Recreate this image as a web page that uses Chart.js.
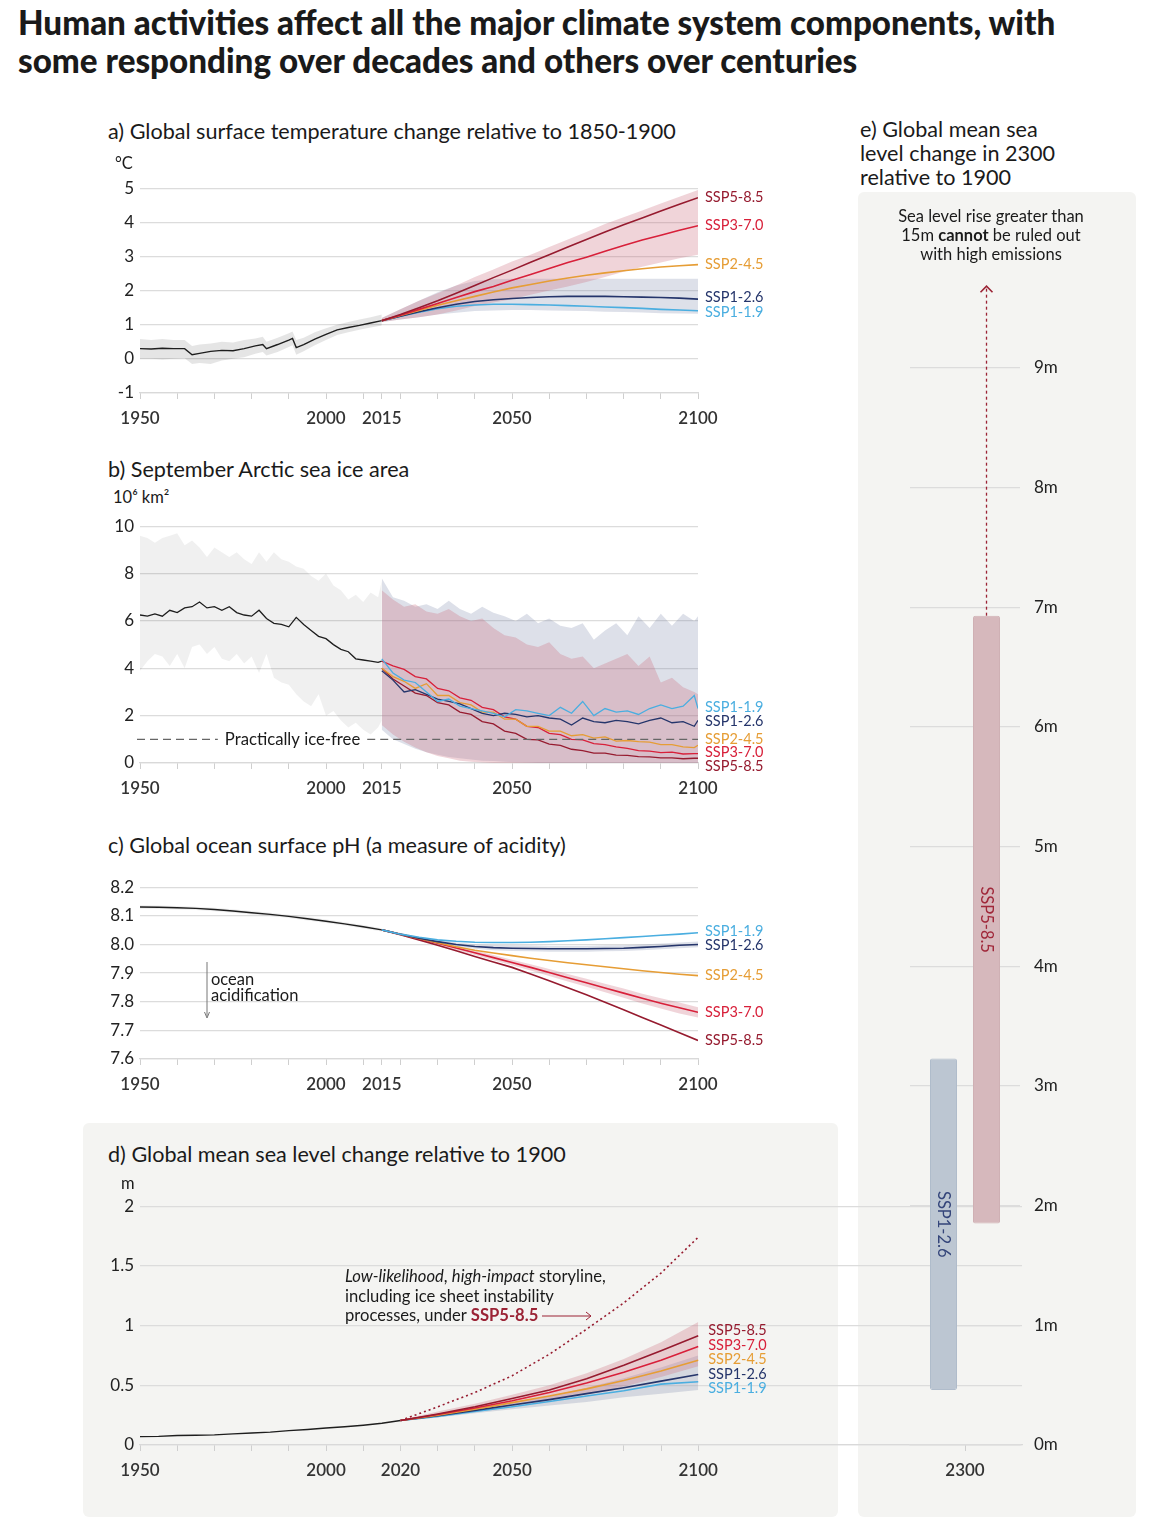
<!DOCTYPE html>
<html>
<head>
<meta charset="utf-8">
<script src="https://cdn.jsdelivr.net/npm/chart.js@4.4.1/dist/chart.umd.min.js"></script>
<style>
  body { margin: 0; background: #fff; font-family: Lato, "Noto Sans", sans-serif; color: #1a1a1a; }
  #page { position: relative; width: 1158px; height: 1536px; overflow: hidden; }
  .abs { position: absolute; white-space: nowrap; }
  canvas { position: absolute; }
  .bg { position: absolute; background: #f4f4f2; border-radius: 6px; }
  .ptitle { font-size: 21.6px; line-height: 24px; z-index: 3; }
  .unit { font-size: 16.5px; line-height: 18px; z-index: 3; }
</style>
</head>
<body>
<div id="page">
  <div class="abs" style="left:18px;top:3px;font-size:33.2px;font-weight:900;line-height:38px;z-index:3">Human activities affect all the major climate system components, with<br>some responding over decades and others over centuries</div>

  <div class="bg" style="left:83px;top:1123px;width:755px;height:394px"></div>
  <div class="bg" style="left:858px;top:192px;width:278px;height:1325px"></div>

  <div class="abs ptitle" style="left:108px;top:119px">a) Global surface temperature change relative to 1850-1900</div>
  <div class="abs unit" style="left:115px;top:154px">°C</div>
  <div class="abs ptitle" style="left:108px;top:457px">b) September Arctic sea ice area</div>
  <div class="abs unit" style="left:113px;top:488px">10⁶ km²</div>
  <div class="abs ptitle" style="left:108px;top:833px">c) Global ocean surface pH (a measure of acidity)</div>
  <div class="abs" style="left:211px;top:971px;font-size:16.5px;line-height:16px;z-index:3">ocean<br>acidification</div>
  <div class="abs ptitle" style="left:108px;top:1142px">d) Global mean sea level change relative to 1900</div>
  <div class="abs unit" style="left:121px;top:1174px">m</div>
  <div class="abs" style="left:345px;top:1267px;font-size:16.6px;line-height:19.5px;z-index:3"><i>Low-likelihood</i>, <i>high-impact</i> storyline,<br>including ice sheet instability<br>processes, under <b style="color:#9b2335">SSP5-8.5</b></div>
  <div class="abs ptitle" style="left:860px;top:117px">e) Global mean sea<br>level change in 2300<br>relative to 1900</div>
  <div class="abs" style="left:866px;top:207px;width:250px;text-align:center;font-size:16.5px;line-height:19px;z-index:3">Sea level rise greater than<br>15m <b>cannot</b> be ruled out<br>with high emissions</div>

  <canvas id="cA" width="690" height="257" style="left:90px;top:172px;z-index:1"></canvas>
  <canvas id="cB" width="690" height="289" style="left:90px;top:510px;z-index:1"></canvas>
  <canvas id="cC" width="690" height="224" style="left:90px;top:871px;z-index:1"></canvas>
  <canvas id="cD" width="936" height="291" style="left:90px;top:1190px;z-index:1"></canvas>
  <canvas id="cE" width="190" height="1221" style="left:880px;top:260px;z-index:2"></canvas>

  <svg class="abs" style="left:0;top:0;z-index:4" width="1158" height="1536">
    <line x1="207" y1="962" x2="207" y2="1016" stroke="#777" stroke-width="1"/>
    <path d="M204.5 1012 L207 1018 L209.5 1012" fill="none" stroke="#777" stroke-width="1"/>
    <line x1="542" y1="1316" x2="591" y2="1316" stroke="#9b2335" stroke-width="1"/>
    <path d="M586 1312 L591 1316 L586 1320" fill="none" stroke="#9b2335" stroke-width="1"/>
  </svg>
</div>

<script>
// ---------- a) global surface temperature (°C vs 1850-1900) ----------
const yearsTempHist = [1950,1953,1956,1959,1962,1964,1966,1969,1972,1975,1978,1981,1983,1984,1987,1990,1991,1992,1994,1997,2000,2003,2006,2009,2012,2015];
const tempHist   = [0.3,0.29,0.31,0.3,0.3,0.12,0.16,0.22,0.25,0.24,0.3,0.38,0.42,0.3,0.42,0.55,0.6,0.33,0.42,0.58,0.72,0.85,0.92,0.98,1.05,1.12];
const tempHistLo = [0.0,0.0,-0.02,0.0,0.02,-0.15,-0.12,-0.15,-0.05,0.0,0.05,0.15,0.2,0.1,0.2,0.35,0.4,0.12,0.22,0.4,0.55,0.7,0.78,0.85,0.92,0.98];
const tempHistHi = [0.58,0.55,0.58,0.55,0.55,0.38,0.42,0.45,0.5,0.48,0.55,0.6,0.65,0.5,0.62,0.75,0.8,0.55,0.62,0.78,0.9,1.0,1.08,1.15,1.22,1.3];

const yearsTempProj = [2015,2020,2025,2030,2035,2040,2045,2050,2055,2060,2065,2070,2075,2080,2085,2090,2095,2100];
const tempSsp585 = [1.12,1.3,1.5,1.7,1.92,2.15,2.38,2.6,2.83,3.05,3.28,3.5,3.72,3.93,4.13,4.33,4.53,4.72];
const tempSsp370 = [1.12,1.28,1.45,1.62,1.8,1.97,2.12,2.3,2.47,2.65,2.82,2.98,3.15,3.32,3.48,3.62,3.77,3.9];
const tempSsp245 = [1.12,1.27,1.42,1.57,1.7,1.83,1.96,2.08,2.18,2.28,2.37,2.45,2.52,2.58,2.64,2.69,2.73,2.76];
const tempSsp126 = [1.12,1.25,1.38,1.5,1.6,1.68,1.73,1.77,1.8,1.82,1.83,1.83,1.83,1.82,1.81,1.8,1.78,1.75];
const tempSsp119 = [1.12,1.25,1.37,1.47,1.54,1.58,1.6,1.6,1.59,1.58,1.56,1.54,1.52,1.5,1.48,1.45,1.43,1.41];
const tempBand370Lo = [1.08,1.15,1.22,1.3,1.42,1.55,1.65,1.75,1.88,2.0,2.12,2.25,2.4,2.55,2.7,2.82,2.95,3.05];
const tempBand370Hi = [1.2,1.45,1.7,1.92,2.15,2.4,2.62,2.85,3.05,3.28,3.5,3.72,3.95,4.15,4.35,4.55,4.75,4.95];
const tempBand126Lo = [1.08,1.15,1.22,1.3,1.35,1.4,1.42,1.43,1.43,1.42,1.41,1.4,1.38,1.37,1.36,1.34,1.33,1.32];
const tempBand126Hi = [1.2,1.45,1.7,1.95,2.15,2.28,2.33,2.35,2.35,2.35,2.35,2.35,2.35,2.35,2.35,2.35,2.35,2.35];

// ---------- b) September Arctic sea ice (10^6 km2) ----------
const yearsIceHist = [1950,1952,1954,1956,1958,1960,1962,1964,1966,1968,1970,1972,1974,1976,1978,1980,1982,1984,1986,1988,1990,1992,1994,1996,1998,2000,2002,2004,2006,2008,2010,2012,2014,2015];
const iceHist   = [6.25,6.2,6.3,6.2,6.45,6.35,6.55,6.6,6.8,6.55,6.6,6.45,6.6,6.35,6.25,6.2,6.45,6.1,5.9,5.85,5.75,6.15,5.85,5.6,5.35,5.25,5.0,4.8,4.7,4.4,4.35,4.3,4.25,4.3];
const iceHistLo = [3.9,4.3,4.6,4.5,4.1,4.6,4.0,4.9,5.0,4.6,4.9,4.4,4.3,4.6,4.2,4.5,3.8,4.6,3.6,3.4,3.3,2.9,2.6,2.4,2.9,2.0,2.2,1.8,1.5,1.7,1.4,1.2,1.5,1.8];
const iceHistHi = [9.6,9.5,9.3,9.5,9.6,9.7,9.2,9.4,9.1,8.7,9.1,8.9,8.7,8.9,8.6,8.4,8.9,8.5,8.9,8.6,8.5,8.3,8.2,7.9,7.7,8.0,7.5,7.3,6.9,7.1,6.8,7.2,7.0,7.7];

const yearsIceProj = [2015,2018,2021,2024,2027,2030,2033,2036,2039,2042,2045,2048,2051,2054,2057,2060,2063,2066,2069,2072,2075,2078,2081,2084,2087,2090,2093,2096,2099,2100];
const iceSsp119 = [4.4,3.8,3.5,3.4,3.0,2.6,2.7,2.4,2.3,2.2,2.1,1.95,2.25,2.2,2.1,2.0,2.35,2.1,2.6,2.0,2.3,2.15,2.2,2.05,2.3,2.45,2.3,2.4,2.85,2.3];
const iceSsp126 = [3.9,3.5,3.0,3.1,2.9,2.7,2.6,2.5,2.3,2.1,2.0,2.1,2.05,1.95,2.0,1.9,1.85,1.6,1.9,1.75,1.7,1.8,1.75,1.65,1.8,1.9,1.7,1.75,1.55,1.8];
const iceSsp245 = [4.0,3.65,3.45,3.15,3.35,2.85,2.85,2.55,2.45,2.15,2.15,1.85,1.85,1.55,1.55,1.35,1.35,1.15,1.2,1.05,1.1,0.92,0.95,0.9,0.88,0.78,0.78,0.68,0.65,0.75];
const iceSsp370 = [4.3,4.1,3.95,3.65,3.55,3.15,3.05,2.75,2.65,2.35,2.25,1.95,1.85,1.55,1.5,1.25,1.2,1.0,0.98,0.82,0.78,0.68,0.62,0.52,0.5,0.44,0.46,0.38,0.4,0.4];
const iceSsp585 = [4.0,3.55,3.25,2.95,2.85,2.55,2.45,2.15,2.05,1.75,1.65,1.35,1.25,1.0,0.98,0.8,0.74,0.58,0.52,0.42,0.42,0.33,0.32,0.27,0.26,0.22,0.22,0.18,0.2,0.2];
const iceBand126Lo = [1.4,1.0,0.8,0.6,0.45,0.35,0.25,0.2,0.15,0.1,0.08,0.05,0.03,0.02,0,0,0,0,0,0,0,0,0,0,0,0,0,0,0,0];
const iceBand126Hi = [7.8,7.0,6.85,6.6,6.7,6.5,6.85,6.5,6.3,6.6,6.35,6.2,6.0,6.3,5.9,6.1,5.8,5.7,5.9,5.2,5.6,5.9,5.4,6.2,5.7,6.3,5.8,6.3,6.0,6.2];
const iceBand370Lo = [1.6,1.2,0.9,0.65,0.45,0.3,0.2,0.1,0.05,0.02,0,0,0,0,0,0,0,0,0,0,0,0,0,0,0,0,0,0,0,0];
const iceBand370Hi = [7.3,6.9,6.6,6.7,6.4,6.3,6.5,6.2,6.0,6.1,5.7,5.4,5.3,5.0,4.9,5.1,4.6,4.4,4.5,4.0,4.2,4.4,4.6,4.1,4.5,3.4,3.6,3.2,3.0,2.9];
const ICE_FREE = 1;

// ---------- c) ocean surface pH ----------
const yearsPhHist = [1950,1955,1960,1965,1970,1975,1980,1985,1990,1995,2000,2005,2010,2015];
const phHist   = [8.131,8.13,8.128,8.126,8.122,8.117,8.111,8.105,8.098,8.09,8.081,8.072,8.062,8.051];
const phHistLo = [8.125,8.124,8.122,8.12,8.116,8.111,8.105,8.099,8.092,8.084,8.075,8.066,8.056,8.045];
const phHistHi = [8.137,8.136,8.134,8.132,8.128,8.123,8.117,8.111,8.104,8.096,8.087,8.078,8.068,8.057];

const yearsPhProj = [2015,2020,2025,2030,2035,2040,2045,2050,2055,2060,2065,2070,2075,2080,2085,2090,2095,2100];
const phSsp119 = [8.051,8.036,8.025,8.016,8.011,8.008,8.007,8.007,8.008,8.01,8.013,8.016,8.02,8.024,8.028,8.032,8.036,8.041];
const phSsp126 = [8.051,8.036,8.022,8.01,8.0,7.993,7.989,7.987,7.986,7.985,7.985,7.985,7.986,7.987,7.99,7.993,7.997,8.0];
const phSsp245 = [8.051,8.036,8.021,8.006,7.992,7.98,7.97,7.961,7.952,7.944,7.936,7.929,7.922,7.915,7.908,7.902,7.896,7.891];
const phSsp370 = [8.051,8.036,8.02,8.004,7.988,7.971,7.954,7.937,7.92,7.902,7.884,7.866,7.848,7.83,7.812,7.795,7.779,7.763];
const phSsp585 = [8.051,8.034,8.016,7.997,7.978,7.958,7.939,7.92,7.897,7.873,7.849,7.824,7.798,7.772,7.745,7.719,7.692,7.665];
const phBand370Lo = [8.048,8.032,8.015,7.998,7.981,7.963,7.945,7.927,7.909,7.89,7.871,7.852,7.833,7.814,7.794,7.776,7.759,7.745];
const phBand370Hi = [8.054,8.04,8.025,8.01,7.995,7.979,7.963,7.947,7.931,7.914,7.897,7.88,7.863,7.846,7.828,7.812,7.797,7.781];
const phBand126Lo = [8.048,8.032,8.017,8.004,7.993,7.985,7.98,7.977,7.976,7.975,7.975,7.975,7.976,7.977,7.98,7.983,7.987,7.99];
const phBand126Hi = [8.054,8.04,8.027,8.016,8.007,8.001,7.998,7.997,7.996,7.995,7.995,7.995,7.996,7.997,8.0,8.003,8.007,8.01];

// ---------- d) global mean sea level (m vs 1900) ----------
const yearsSlrHist = [1950,1955,1960,1965,1970,1975,1980,1985,1990,1995,2000,2005,2010,2015,2020];
const slrHist = [0.07,0.072,0.08,0.082,0.085,0.093,0.1,0.108,0.12,0.13,0.142,0.153,0.166,0.182,0.205];
const yearsSlrProj = [2020,2030,2040,2050,2060,2070,2080,2090,2100];
const slrSsp585 = [0.205,0.26,0.32,0.39,0.46,0.555,0.667,0.79,0.915];
const slrSsp370 = [0.205,0.255,0.31,0.37,0.44,0.52,0.61,0.71,0.825];
const slrSsp245 = [0.205,0.25,0.3,0.355,0.41,0.47,0.54,0.62,0.71];
const slrSsp126 = [0.205,0.245,0.29,0.335,0.38,0.43,0.48,0.535,0.59];
const slrSsp119 = [0.205,0.24,0.28,0.32,0.365,0.41,0.455,0.51,0.53];
const slrStoryline = [0.205,0.32,0.44,0.58,0.76,0.97,1.19,1.44,1.74];
const slrBand370Lo = [0.2,0.24,0.285,0.33,0.38,0.43,0.49,0.57,0.66];
const slrBand370Hi = [0.21,0.28,0.345,0.42,0.5,0.6,0.72,0.86,1.03];
const slrBand126Lo = [0.2,0.23,0.265,0.3,0.33,0.36,0.4,0.43,0.46];
const slrBand126Hi = [0.21,0.26,0.31,0.36,0.41,0.48,0.56,0.65,0.75];

// ---------- e) sea level in 2300 (m), likely ranges ----------
const yearE = ['2300'];
const slr2300Ssp126 = [0.46, 3.23];
const slr2300Ssp585 = [1.85, 6.93];
const metreTicksE = [0,1,2,3,4,5,6,7,8,9];

// ---------- axis ticks ----------
const tickYearsA = [1950,1960,1970,1980,1990,2000,2010,2015,2020,2030,2040,2050,2060,2070,2080,2090,2100];
const labelYearsA = [1950,2000,2015,2050,2100];
const tickYearsD = [1950,1960,1970,1980,1990,2000,2010,2020,2030,2040,2050,2060,2070,2080,2090,2100];
const labelYearsD = [1950,2000,2020,2050,2100];

// colours
const COL = { ssp119:'#4aaee0', ssp126:'#25356b', ssp245:'#e69d35', ssp370:'#d8203a', ssp585:'#961b2f', hist:'#1e1e1e' };
const PINK = 'rgba(200,100,120,0.28)';
const BLUE = 'rgba(110,120,160,0.23)';

Chart.defaults.font.family = 'Lato, "Noto Sans", sans-serif';
Chart.defaults.color = '#222';
Chart.defaults.animation = false;
Chart.defaults.plugins.legend.display = false;
Chart.defaults.plugins.tooltip.enabled = false;

function xy(xs, ys) { return xs.map((x, i) => ({ x: x, y: ys[i] })); }

function line(label, xs, ys, color, extra) {
  return Object.assign({ label: label, data: xy(xs, ys), borderColor: color, borderWidth: 1.6,
    pointRadius: 0, tension: 0, fill: false, order: 0, tag: true }, extra || {});
}
function band(xs, lo, hi, color, order) {
  return [
    { data: xy(xs, lo), borderWidth: 0, pointRadius: 0, fill: false, order: order },
    { data: xy(xs, hi), borderWidth: 0, pointRadius: 0, fill: '-1', backgroundColor: color, order: order }
  ];
}

const X_TICK_FONT = { size: 17, weight: '600' };

function xAxis(min, max, ticks, labelled) {
  return {
    type: 'linear', min: min, max: max,
    afterBuildTicks: s => { s.ticks = ticks.map(v => ({ value: v })); },
    afterFit: s => { s.height = 36; },
    ticks: { autoSkip: false, maxRotation: 0, padding: 9, color: '#333', font: X_TICK_FONT,
      callback: v => labelled.includes(v) ? String(v) : '' },
    grid: { drawOnChartArea: false, drawTicks: true, tickLength: 6, color: '#cfcfcf' },
    border: { color: '#d9d9d9', width: 1.2 }
  };
}
function yAxis(min, max, step, fmt) {
  return {
    type: 'linear', min: min, max: max,
    afterFit: s => { s.width = 50; },
    ticks: { stepSize: step, padding: 6, font: { size: 17 }, callback: fmt },
    grid: { color: '#dcdcdc', lineWidth: 1.2, drawTicks: false },
    border: { display: false }
  };
}

// scenario names written at the right end of each projection line
const endLabels = {
  id: 'endLabels',
  afterDatasetsDraw(chart, args, opts) {
    const items = [];
    chart.data.datasets.forEach((ds, i) => {
      if (!ds.tag) return;
      const meta = chart.getDatasetMeta(i);
      const last = ds.data[ds.data.length - 1];
      items.push({ text: ds.label, color: ds.borderColor,
        x: meta.xScale.getPixelForValue(last.x) + opts.dx,
        y: meta.yScale.getPixelForValue(last.y) });
    });
    items.sort((a, b) => a.y - b.y);
    for (let k = 0; k < 80; k++) {
      for (let i = 1; i < items.length; i++) {
        const d = items[i].y - items[i - 1].y;
        if (d < opts.gap) { const m = (opts.gap - d) / 2; items[i].y += m; items[i - 1].y -= m; }
      }
    }
    const ctx = chart.ctx;
    ctx.save();
    ctx.font = '14.5px Lato';
    ctx.textAlign = 'left';
    ctx.textBaseline = 'middle';
    items.forEach(it => { ctx.fillStyle = it.color; ctx.fillText(it.text, it.x, it.y); });
    ctx.restore();
  }
};

// dashed "practically ice-free" threshold with its label
const thresholdLine = {
  id: 'threshold',
  afterDatasetsDraw(chart, args, opts) {
    const { ctx, chartArea, scales } = chart;
    const py = scales.y.getPixelForValue(opts.value);
    const cx = scales.x.getPixelForValue(opts.atYear);
    ctx.save();
    ctx.font = '16.7px Lato';
    const w = ctx.measureText(opts.text).width;
    ctx.strokeStyle = '#666';
    ctx.lineWidth = 1.2;
    ctx.setLineDash([8, 5]);
    ctx.beginPath();
    ctx.moveTo(chartArea.left - 3, py); ctx.lineTo(cx - w / 2 - 7, py);
    ctx.moveTo(cx + w / 2 + 7, py); ctx.lineTo(chartArea.right, py);
    ctx.stroke();
    ctx.fillStyle = '#1a1a1a';
    ctx.textAlign = 'center';
    ctx.textBaseline = 'middle';
    ctx.fillText(opts.text, cx, py);
    ctx.restore();
  }
};

// rotated names inside the 2300 bars and the dotted "could be higher" arrow
const barNotes = {
  id: 'barNotes',
  afterDatasetsDraw(chart) {
    const ctx = chart.ctx, y = chart.scales.y;
    chart.data.datasets.forEach((ds, i) => {
      const bar = chart.getDatasetMeta(i).data[0];
      const lo = ds.data[0][0], hi = ds.data[0][1];
      ctx.save();
      ctx.translate(bar.x, y.getPixelForValue((lo + hi) / 2));
      ctx.rotate(Math.PI / 2);
      ctx.fillStyle = ds.textColor;
      ctx.font = '16.5px Lato';
      ctx.textAlign = 'center';
      ctx.textBaseline = 'middle';
      ctx.fillText(ds.label, 0, 0);
      ctx.restore();
      if (ds.arrowUp) {
        const from = y.getPixelForValue(hi), tip = chart.chartArea.top + 2;
        ctx.save();
        ctx.strokeStyle = '#9b2335';
        ctx.lineWidth = 1.3;
        ctx.setLineDash([3, 3]);
        ctx.beginPath(); ctx.moveTo(bar.x, from); ctx.lineTo(bar.x, tip + 2); ctx.stroke();
        ctx.setLineDash([]);
        ctx.lineWidth = 1.6;
        ctx.beginPath(); ctx.moveTo(bar.x - 6, tip + 6); ctx.lineTo(bar.x, tip); ctx.lineTo(bar.x + 6, tip + 6); ctx.stroke();
        ctx.restore();
      }
    });
  }
};

function panel(id, datasets, x, y, padding, plugins, pluginOpts) {
  return new Chart(document.getElementById(id), {
    type: 'line',
    data: { datasets: datasets },
    options: { responsive: false, layout: { padding: padding }, scales: { x: x, y: y },
      plugins: Object.assign({ legend: { display: false }, tooltip: { enabled: false } }, pluginOpts || {}) },
    plugins: plugins || []
  });
}

// a)
panel('cA', [
  line('SSP5-8.5', yearsTempProj, tempSsp585, COL.ssp585),
  line('SSP3-7.0', yearsTempProj, tempSsp370, COL.ssp370),
  line('SSP2-4.5', yearsTempProj, tempSsp245, COL.ssp245),
  line('SSP1-2.6', yearsTempProj, tempSsp126, COL.ssp126),
  line('SSP1-1.9', yearsTempProj, tempSsp119, COL.ssp119),
  line('historical', yearsTempHist, tempHist, COL.hist, { tag: false, borderWidth: 1.4 }),
  ...band(yearsTempHist, tempHistLo, tempHistHi, 'rgba(0,0,0,0.1)', 2),
  ...band(yearsTempProj, tempBand370Lo, tempBand370Hi, PINK, 2),
  ...band(yearsTempProj, tempBand126Lo, tempBand126Hi, BLUE, 3)
], xAxis(1950, 2100, tickYearsA, labelYearsA), yAxis(-1, 5, 1, v => String(v)),
  { top: 14, right: 82 }, [endLabels], { endLabels: { dx: 7, gap: 15 } });

// b)
panel('cB', [
  line('SSP1-1.9', yearsIceProj, iceSsp119, COL.ssp119, { borderWidth: 1.3 }),
  line('SSP1-2.6', yearsIceProj, iceSsp126, COL.ssp126, { borderWidth: 1.3 }),
  line('SSP2-4.5', yearsIceProj, iceSsp245, COL.ssp245, { borderWidth: 1.3 }),
  line('SSP3-7.0', yearsIceProj, iceSsp370, COL.ssp370, { borderWidth: 1.3 }),
  line('SSP5-8.5', yearsIceProj, iceSsp585, COL.ssp585, { borderWidth: 1.3 }),
  line('historical', yearsIceHist, iceHist, COL.hist, { tag: false, borderWidth: 1.3 }),
  ...band(yearsIceHist, iceHistLo, iceHistHi, 'rgba(0,0,0,0.06)', 2),
  ...band(yearsIceProj, iceBand370Lo, iceBand370Hi, PINK, 2),
  ...band(yearsIceProj, iceBand126Lo, iceBand126Hi, BLUE, 3)
], xAxis(1950, 2100, tickYearsA, labelYearsA), yAxis(0, 10, 2, v => String(v)),
  { top: 14, right: 82 }, [thresholdLine, endLabels],
  { endLabels: { dx: 7, gap: 13.5 }, threshold: { value: ICE_FREE, atYear: 1991, text: 'Practically ice-free' } });

// c)
panel('cC', [
  line('SSP1-1.9', yearsPhProj, phSsp119, COL.ssp119),
  line('SSP1-2.6', yearsPhProj, phSsp126, COL.ssp126),
  line('SSP2-4.5', yearsPhProj, phSsp245, COL.ssp245),
  line('SSP3-7.0', yearsPhProj, phSsp370, COL.ssp370),
  line('SSP5-8.5', yearsPhProj, phSsp585, COL.ssp585),
  line('historical', yearsPhHist, phHist, COL.hist, { tag: false, borderWidth: 1.4 }),
  ...band(yearsPhHist, phHistLo, phHistHi, 'rgba(0,0,0,0.07)', 2),
  ...band(yearsPhProj, phBand370Lo, phBand370Hi, PINK, 2),
  ...band(yearsPhProj, phBand126Lo, phBand126Hi, BLUE, 3)
], xAxis(1950, 2100, tickYearsA, labelYearsA), yAxis(7.6, 8.2, 0.1, v => v.toFixed(1)),
  { top: 14, right: 82 }, [endLabels], { endLabels: { dx: 7, gap: 14 } });

// d) x axis runs on past 2100 so its grid lines reach across to panel e
panel('cD', [
  line('SSP5-8.5', yearsSlrProj, slrSsp585, COL.ssp585),
  line('SSP3-7.0', yearsSlrProj, slrSsp370, COL.ssp370),
  line('SSP2-4.5', yearsSlrProj, slrSsp245, COL.ssp245),
  line('SSP1-2.6', yearsSlrProj, slrSsp126, COL.ssp126),
  line('SSP1-1.9', yearsSlrProj, slrSsp119, COL.ssp119),
  line('storyline', yearsSlrProj, slrStoryline, COL.ssp585, { tag: false, borderDash: [2, 3], borderWidth: 1.6 }),
  line('historical', yearsSlrHist, slrHist, COL.hist, { tag: false, borderWidth: 1.4 }),
  ...band(yearsSlrProj, slrBand370Lo, slrBand370Hi, PINK, 2),
  ...band(yearsSlrProj, slrBand126Lo, slrBand126Hi, BLUE, 3)
], xAxis(1950, 2187, tickYearsD, labelYearsD), yAxis(0, 2, 0.5, v => String(v)),
  { top: 14, right: 4 }, [endLabels], { endLabels: { dx: 10, gap: 14.5 } });

// e)
new Chart(document.getElementById('cE'), {
  type: 'bar',
  data: {
    labels: yearE,
    datasets: [
      { label: 'SSP1-2.6', data: [slr2300Ssp126], backgroundColor: '#bcc6d2', borderColor: '#b0bccb',
        borderWidth: 1, borderRadius: 2, borderSkipped: false, textColor: '#34457a' },
      { label: 'SSP5-8.5', data: [slr2300Ssp585], backgroundColor: '#d6b8bc', borderColor: '#cfb0b4',
        borderWidth: 1, borderRadius: 2, borderSkipped: false, textColor: '#a0283a', arrowUp: true }
    ]
  },
  options: {
    responsive: false,
    layout: { padding: { top: 7, left: 30 } },
    datasets: { bar: { categoryPercentage: 0.782, barPercentage: 0.628 } },
    scales: {
      x: {
        afterFit: s => { s.height = 36; },
        ticks: { padding: 9, color: '#333', font: X_TICK_FONT },
        grid: { drawOnChartArea: false, drawTicks: true, tickLength: 6, offset: false, color: '#cfcfcf' },
        border: { color: '#dcdcdc', width: 1.2 }
      },
      y: {
        type: 'linear', position: 'right', min: 0, max: 9.7,
        afterBuildTicks: s => { s.ticks = metreTicksE.map(v => ({ value: v })); },
        afterFit: s => { s.width = 50; },
        ticks: { padding: 14, font: { size: 17 }, callback: v => v + 'm' },
        grid: { color: '#dcdcdc', lineWidth: 1.2, drawTicks: false },
        border: { display: false }
      }
    },
    plugins: { legend: { display: false }, tooltip: { enabled: false } }
  },
  plugins: [barNotes]
});
</script>
</body>
</html>
